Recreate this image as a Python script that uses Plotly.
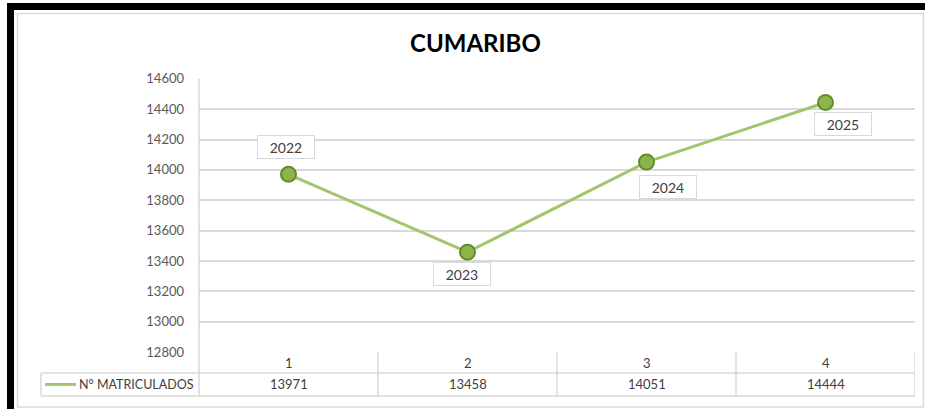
import plotly.graph_objects as go

categories = [1, 2, 3, 4]
matriculados = [13971, 13458, 14051, 14444]
years = ["2022", "2023", "2024", "2025"]
series_name = "N° MATRICULADOS"
title = "CUMARIBO"
y_ticks = list(range(12800, 14601, 200))

W = 925
S = 1 / 0.965          # vertical compensation of the capture
H = round(410 * S)
FONT = "Lato"
GRID = "#D9D9D9"
TXT = "#404040"
LINE_C = "#A3C56F"
MARK_C = "#8CB44A"
MARK_B = "#628C2A"

def px(x):
    return x / W

def py(y):
    return 1 - (y * S) / H

PL, PR, PT, PB = 199, 915, 79, 353
ROW1, ROW2 = 374, 397
LEG_L = 41

fig = go.Figure()
fig.add_trace(go.Scatter(
    x=categories, y=matriculados, mode="lines+markers", name=series_name,
    line=dict(color=LINE_C, width=3),
    marker=dict(size=15, color=MARK_C, line=dict(color=MARK_B, width=2)),
    showlegend=False, hoverinfo="x+y",
))

shapes = []
# black border
shapes.append(dict(type="rect", xref="paper", yref="paper", x0=px(7), x1=px(925), y0=py(3), y1=py(10),
                   fillcolor="black", line=dict(width=0), layer="above"))
shapes.append(dict(type="rect", xref="paper", yref="paper", x0=px(7), x1=px(14), y0=py(3), y1=py(410),
                   fillcolor="black", line=dict(width=0), layer="above"))
# inner chart frame
shapes.append(dict(type="rect", xref="paper", yref="paper", x0=px(17.5), x1=px(923.5), y0=py(13.5), y1=py(408),
                   line=dict(color=GRID, width=1.5)))
# y-axis line extended through table
shapes.append(dict(type="line", xref="paper", yref="paper", x0=px(PL), x1=px(PL), y0=py(PT), y1=py(ROW2),
                   line=dict(color=GRID, width=1.5)))
# table horizontal lines
for yy in (ROW1, ROW2):
    shapes.append(dict(type="line", xref="paper", yref="paper", x0=px(LEG_L), x1=px(PR), y0=py(yy), y1=py(yy),
                       line=dict(color=GRID, width=1.5)))
shapes.append(dict(type="line", xref="paper", yref="paper", x0=px(LEG_L), x1=px(LEG_L), y0=py(ROW1), y1=py(ROW2),
                   line=dict(color=GRID, width=1.5)))
# column separators
for c in categories:
    shapes.append(dict(type="line", xref="x", yref="paper", x0=c + 0.5, x1=c + 0.5, y0=py(PB), y1=py(ROW2),
                       line=dict(color=GRID, width=1.5)))
# legend key line
shapes.append(dict(type="line", xref="paper", yref="paper", x0=px(45), x1=px(76), y0=py(385.5), y1=py(385.5),
                   line=dict(color=LINE_C, width=3)))

annotations = []
annotations.append(dict(text=f"<b>{title}</b>", xref="paper", yref="paper", x=px(475), y=py(43),
                        xanchor="center", yanchor="middle", showarrow=False,
                        font=dict(family=FONT, size=24, color="#000000")))
# data labels (year) in boxes
offsets = [(-3, 26), (-6, -21), (21, -24), (17, -21)]
for c, v, yr, (dx, dy) in zip(categories, matriculados, years, offsets):
    annotations.append(dict(text=yr, x=c, y=v, xref="x", yref="y", showarrow=False,
                            xshift=dx, yshift=dy * S, width=54, height=20, borderpad=1,
                            bgcolor="white", bordercolor=GRID, borderwidth=1,
                            font=dict(family=FONT, size=14, color=TXT)))
# table row 1: category labels, row 2: values
for c, v in zip(categories, matriculados):
    annotations.append(dict(text=str(c), x=c, y=py((PB + ROW1) / 2), xref="x", yref="paper",
                            showarrow=False, yanchor="middle",
                            font=dict(family=FONT, size=13, color=TXT)))
    annotations.append(dict(text=str(v), x=c, y=py((ROW1 + ROW2) / 2), xref="x", yref="paper",
                            showarrow=False, yanchor="middle",
                            font=dict(family=FONT, size=13, color=TXT)))
annotations.append(dict(text=series_name, x=px(77), y=py((ROW1 + ROW2) / 2), xref="paper", yref="paper",
                        xanchor="left", yanchor="middle", showarrow=False,
                        font=dict(family=FONT, size=12.5, color=TXT)))

fig.update_layout(
    width=W, height=H, autosize=False,
    margin=dict(l=0, r=0, t=0, b=0, pad=0),
    paper_bgcolor="white", plot_bgcolor="white",
    xaxis=dict(domain=[px(PL), px(PR)], range=[0.5, 4.5], showticklabels=False,
               showgrid=False, zeroline=False, showline=False, fixedrange=True),
    yaxis=dict(domain=[py(PB), py(PT)], range=[12800, 14600], tickvals=y_ticks,
               ticktext=[str(t) for t in y_ticks], showgrid=True, gridcolor=GRID, gridwidth=1.5,
               zeroline=False, showline=False, ticks="", ticklabelstandoff=14,
               tickfont=dict(family=FONT, size=13, color="#595959"), fixedrange=True),
    shapes=shapes, annotations=annotations,
)

css_js = (
    "document.documentElement.style.cssText='margin:0;padding:0;overflow:hidden;';"
    "document.body.style.cssText='margin:0;padding:0;overflow:hidden;';"
    "var gd=document.getElementById('{plot_id}');"
    "gd.style.position='absolute';gd.style.left='0px';gd.style.top='-8px';"
)
fig.write_html("out.html", post_script=css_js, config={"displayModeBar": False, "responsive": False})
